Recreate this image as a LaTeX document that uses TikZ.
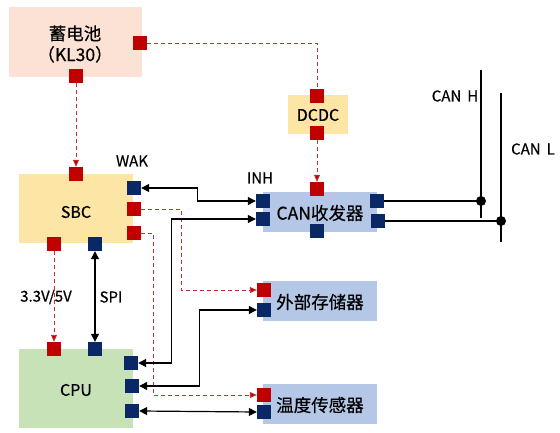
\documentclass[tikz,border=0pt]{standalone}
\usepackage{fontspec}
\setmainfont{Noto Sans CJK SC}[FakeBold=0.5]
\usetikzlibrary{arrows.meta}
\definecolor{pinred}{HTML}{C00000}
\definecolor{pinblue}{HTML}{0B2866}
\definecolor{peach}{HTML}{FBE2D5}
\definecolor{gold}{HTML}{FDE5A5}
\definecolor{lblue}{HTML}{B4C7E7}
\definecolor{lgreen}{HTML}{C8E2B8}
\definecolor{dred}{HTML}{C0302F}
\begin{document}
\begin{tikzpicture}[x=1pt,y=-1pt,
  pinr/.style={rectangle,fill=pinred,draw=none,minimum size=14pt,inner sep=0pt},
  pinb/.style={rectangle,fill=pinblue,draw=none,minimum size=14pt,inner sep=0pt},
  pwr/.style={draw=dred,line width=0.9pt,dash pattern=on 4pt off 3pt},
  pwrarrow/.style={pwr,-{Triangle[length=7pt,width=6pt,fill=pinred]}},
  sig/.style={draw=black,line width=1.2pt},
  dbl/.style={sig,{Triangle[length=8pt,width=8pt]}-{Triangle[length=8pt,width=8pt]}},
  cjk/.style={font=\fontsize{17.5pt}{21pt}\selectfont},
  lat/.style={font=\fontsize{16pt}{19pt}\selectfont},
  lab/.style={font=\fontsize{15pt}{18pt}\selectfont},
  dot/.style={circle,fill=black,minimum size=10pt,inner sep=0pt}]
\useasboundingbox (0,0) rectangle (560,433);
\fill[white] (0,0) rectangle (560,433);
% boxes
\fill[peach] (9,7) rectangle (142,77);
\node[cjk,align=center] (bat) at (75,44) {蓄电池\\（KL30）};
\fill[gold] (288,95) rectangle (348,134);
\node[lat] (dcdc) at (318,115) {DCDC};
\fill[gold] (19,174) rectangle (133,243);
\node[lat] (sbc) at (76,212) {SBC};
\fill[lgreen] (19,349) rectangle (133,428);
\node[lat] (cpu) at (76,390) {CPU};
\fill[lblue] (263,192) rectangle (377,232);
\node[cjk] (can) at (320,213) {CAN收发器};
\fill[lblue] (263,281) rectangle (377,321);
\node[cjk] (sto) at (320,302) {外部存储器};
\fill[lblue] (263,384) rectangle (377,424);
\node[cjk] (tmp) at (320,405) {温度传感器};
% pins
\node[pinr] (batR) at (140,43) {};
\node[pinr] (batB) at (76,76) {};
\node[pinr] (dcdcT) at (317,96) {};
\node[pinr] (dcdcB) at (317,133) {};
\node[pinr] (sbcT) at (76,174) {};
\node[pinb] (sbcR1) at (134,188) {};
\node[pinr] (sbcR2) at (134,209) {};
\node[pinr] (sbcR3) at (134,233) {};
\node[pinr] (sbcB1) at (54,244) {};
\node[pinb] (sbcB2) at (95,244) {};
\node[pinr] (cpuT1) at (54,349) {};
\node[pinb] (cpuT2) at (95,349) {};
\node[pinb] (cpuR1) at (131,363) {};
\node[pinb] (cpuR2) at (132,386) {};
\node[pinb] (cpuR3) at (132,411) {};
\node[pinr] (canT) at (317,189) {};
\node[pinb] (canL1) at (263,201) {};
\node[pinb] (canL2) at (263,219) {};
\node[pinb] (canR1) at (377,201) {};
\node[pinb] (canR2) at (378,221) {};
\node[pinb] (canB) at (317,231) {};
\node[pinr] (stoR) at (264,290) {};
\node[pinb] (stoB) at (264,310) {};
\node[pinr] (tmpR) at (264,395) {};
\node[pinb] (tmpB) at (264,412) {};
% labels
\node[lab] (wak) at (132,161) {WAK};
\node[lab] (inh) at (260,178) {INH};
\node[lab] (v33) at (46,297) {3.3V/5V};
\node[lab] (spi) at (111,297) {SPI};
\node[lab] (canh) at (455,96) {CAN\hspace{6pt}H};
\node[lab] (canl) at (533,149) {CAN\hspace{6pt}L};
% bus
\coordinate (hTop) at (481,70);
\coordinate (hBot) at (481,218);
\coordinate (lTop) at (501,93);
\coordinate (lBot) at (501,242);
\node[dot] (dotH) at (481,201) {};
\node[dot] (dotL) at (501,221) {};
\draw[sig] (hTop) -- (hBot);
\draw[sig] (lTop) -- (lBot);
\draw[sig] (canR1.east) -- (dotH.center);
\draw[sig] (canR2.east) -- (dotL.center);
% power lines
\draw[pwr] (batR.east) -| (dcdcT.north);
\draw[pwrarrow] (batB.south) -- (sbcT.north);
\draw[pwrarrow] (dcdcB.south) -- (canT.north);
\draw[pwrarrow] (sbcB1.south) -- (cpuT1.north);
\draw[pwrarrow] (sbcR2.east) -- ++(40,0) |- (stoR.west);
\draw[pwrarrow] (sbcR3.east) -- ++(12,0) |- (tmpR.west);
% signal lines
\draw[dbl] (sbcB2.south) -- (cpuT2.north);
\draw[dbl] (sbcR1.east) -- ++(56,0) |- (canL1.west);
\draw[dbl] (cpuR1.east) -- ++(33,0) |- (canL2.west);
\draw[dbl] (cpuR2.east) -- ++(60,0) |- (stoB.west);
\draw[dbl] (cpuR3.east) -- (tmpB.west);
\end{tikzpicture}
\end{document}
